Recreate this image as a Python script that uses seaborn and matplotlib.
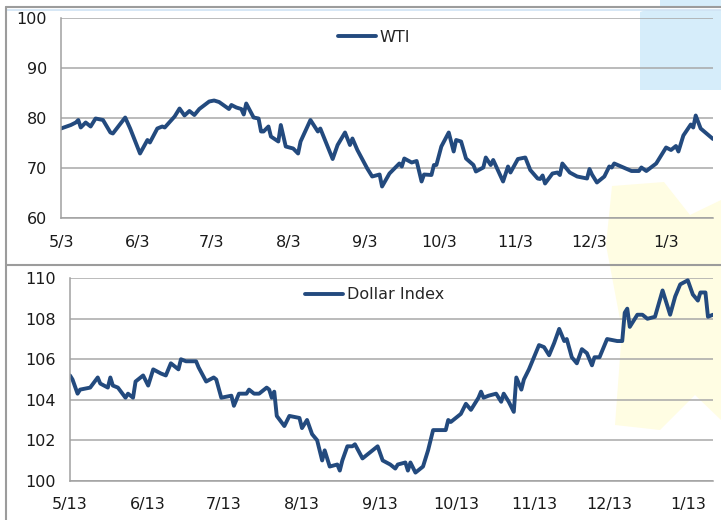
import pandas as pd
import matplotlib
matplotlib.use("Agg")
import matplotlib.pyplot as plt
from matplotlib.lines import Line2D
from matplotlib.patches import Polygon
import seaborn as sns

# WTI: days after 2024-05-03, price
wti_start = "2024-05-03"
wti_days = [0, 4, 6, 7, 8, 9, 10, 12, 14, 17, 20, 21, 26, 28, 32, 35, 36, 39, 41, 42,
            46, 48, 50, 52, 54, 56, 60, 62, 64, 68, 69, 71, 73, 74, 75, 78, 80, 81, 82, 84,
            85, 88, 89, 91, 94, 96, 97, 101, 104, 105, 110, 112, 115, 117, 118, 120, 124, 126, 129, 130,
            133, 135, 137, 138, 139, 142, 144, 146, 147, 150, 151, 152, 154, 157, 159, 160, 162, 164, 167, 168,
            171, 172, 174, 175, 179, 181, 182, 185, 188, 190, 193, 194, 195, 196, 199, 201, 202, 203, 206, 209,
            213, 214, 215, 217, 220, 222, 223, 224, 231, 234, 235, 237, 241, 245, 247, 249, 250, 252, 255, 256,
            257, 259, 264]
wti_vals = [77.9, 78.6, 79.1, 79.6, 78.1, 78.6, 79.1, 78.3, 79.9, 79.6, 77.1, 76.9, 80.1, 77.9, 72.9, 75.6, 75.1, 77.9, 78.3, 78.1,
            80.3, 81.9, 80.5, 81.4, 80.6, 81.8, 83.3, 83.5, 83.2, 81.8, 82.6, 82.1, 81.8, 80.7, 82.9, 80.1, 79.9, 77.3, 77.3, 78.3,
            76.3, 75.3, 78.6, 74.3, 73.9, 72.9, 75.3, 79.6, 77.3, 77.9, 71.8, 74.6, 77.1, 74.6, 75.9, 73.6, 69.9, 68.3, 68.7, 66.3,
            68.9, 69.9, 70.9, 70.3, 71.9, 71.1, 71.4, 67.3, 68.7, 68.6, 70.6, 70.6, 74.3, 77.1, 73.3, 75.6, 75.3, 71.9, 70.6, 69.3,
            70.1, 72.1, 70.6, 71.6, 67.3, 70.3, 69.1, 71.8, 72.1, 69.6, 67.9, 67.8, 68.5, 66.9, 68.9, 69.1, 68.6, 70.9, 69.1, 68.3,
            67.9, 69.8, 68.7, 67.1, 68.3, 70.3, 70.1, 70.9, 69.4, 69.4, 70.1, 69.4, 70.9, 74.1, 73.6, 74.4, 73.3, 76.5, 78.7, 78.1,
            80.5, 77.9, 75.8]

# Dollar Index: days after 2024-05-13, index level
dxy_start = "2024-05-13"
dxy_days = [0, 1, 3, 4, 8, 11, 12, 15, 16, 17, 19, 22, 23, 25, 26, 29, 31, 33, 36, 38,
            40, 43, 44, 46, 50, 51, 54, 57, 58, 60, 64, 65, 67, 70, 71, 73, 75, 78, 79, 80,
            81, 82, 85, 87, 91, 92, 94, 96, 98, 100, 101, 103, 106, 107, 108, 110, 112, 113, 116, 118,
            122, 124, 127, 129, 130, 133, 134, 135, 137, 140, 142, 143, 144, 149, 150, 151, 154, 155, 157, 159,
            162, 163, 164, 166, 169, 171, 172, 174, 176, 177, 179, 180, 182, 186, 188, 190, 192, 194, 196, 197,
            199, 201, 203, 205, 207, 208, 210, 213, 217, 219, 220, 221, 222, 225, 227, 229, 232, 235, 238, 240,
            242, 245, 247, 249, 250, 252, 253, 255]
dxy_vals = [105.2, 105.0, 104.3, 104.5, 104.6, 105.1, 104.8, 104.6, 105.1, 104.7, 104.6, 104.1, 104.3, 104.1, 104.9, 105.2, 104.7, 105.5, 105.3, 105.2,
            105.8, 105.5, 106.0, 105.9, 105.9, 105.6, 104.9, 105.1, 105.0, 104.1, 104.2, 103.7, 104.3, 104.3, 104.5, 104.3, 104.3, 104.6, 104.5, 104.1,
            104.4, 103.2, 102.7, 103.2, 103.1, 102.6, 103.0, 102.3, 102.0, 101.0, 101.5, 100.7, 100.8, 100.5, 101.0, 101.7, 101.7, 101.8, 101.1, 101.3,
            101.7, 101.0, 100.8, 100.6, 100.8, 100.9, 100.5, 100.9, 100.4, 100.7, 101.5, 102.0, 102.5, 102.5, 103.0, 102.9, 103.2, 103.3, 103.8, 103.5,
            104.1, 104.4, 104.1, 104.2, 104.3, 103.9, 104.3, 103.9, 103.4, 105.1, 104.5, 105.0, 105.5, 106.7, 106.6, 106.2, 106.8, 107.5, 106.9, 107.0,
            106.1, 105.8, 106.5, 106.3, 105.7, 106.1, 106.1, 107.0, 106.9, 106.9, 108.3, 108.5, 107.6, 108.2, 108.2, 108.0, 108.1, 109.4, 108.2, 109.1,
            109.7, 109.9, 109.2, 108.9, 109.3, 109.3, 108.1, 108.2]

wti_ticks = ["2024-05-03", "2024-06-03", "2024-07-03", "2024-08-03", "2024-09-03",
             "2024-10-03", "2024-11-03", "2024-12-03", "2025-01-03"]
wti_labels = ["5/3", "6/3", "7/3", "8/3", "9/3", "10/3", "11/3", "12/3", "1/3"]
dxy_ticks = ["2024-05-13", "2024-06-13", "2024-07-13", "2024-08-13", "2024-09-13",
             "2024-10-13", "2024-11-13", "2024-12-13", "2025-01-13"]
dxy_labels = ["5/13", "6/13", "7/13", "8/13", "9/13", "10/13", "11/13", "12/13", "1/13"]

wti = pd.DataFrame({"date": pd.Timestamp(wti_start) + pd.to_timedelta(wti_days, unit="D"),
                    "value": wti_vals})
dxy = pd.DataFrame({"date": pd.Timestamp(dxy_start) + pd.to_timedelta(dxy_days, unit="D"),
                    "value": dxy_vals})

sns.set_style("white")
plt.rcParams["font.family"] = ["DejaVu Sans"]

W, H = 721, 520
fig = plt.figure(figsize=(W / 100, H / 100), dpi=100)


def fx(x):
    return x / W


def fy(y):
    return 1 - y / H


# faint background picture behind the charts
fig.add_artist(Polygon([(fx(640), fy(12)), (fx(646), fy(10)), (fx(721), fy(10)),
                        (fx(721), fy(90)), (fx(640), fy(90))],
                       closed=True, facecolor="#d6edfa", edgecolor="none", zorder=-2))
fig.add_artist(Polygon([(fx(660), fy(0)), (fx(721), fy(0)), (fx(721), fy(7)), (fx(660), fy(7))],
                       closed=True, facecolor="#d6edfa", edgecolor="none", zorder=-2))
fig.add_artist(Polygon([(fx(612), fy(186)), (fx(664), fy(182)), (fx(690), fy(215)), (fx(721), fy(200)),
                        (fx(721), fy(420)), (fx(695), fy(395)), (fx(660), fy(430)), (fx(615), fy(425)),
                        (fx(622), fy(330)), (fx(606), fy(245))],
                       closed=True, facecolor="#fffde3", edgecolor="none", zorder=-2))

# chart frames
frame = "#9c9c9c"
fig.add_artist(Line2D([fx(6), 1], [fy(7), fy(7)], color=frame, lw=1.5))
fig.add_artist(Line2D([fx(6), 1], [fy(10), fy(10)], color="#cfe3f3", lw=1.2))
fig.add_artist(Line2D([fx(6), 1], [fy(265), fy(265)], color=frame, lw=1.5))
fig.add_artist(Line2D([fx(6), fx(6)], [fy(7), 0], color=frame, lw=1.5))

ax1 = fig.add_axes([fx(61), fy(218), (713 - 61) / W, 200 / H])
ax2 = fig.add_axes([fx(70), fy(480.7), (713 - 70) / W, 202.4 / H])

line_color = "#234a7e"
sns.lineplot(data=wti, x="date", y="value", ax=ax1, color=line_color, linewidth=2.8, label="WTI")
sns.lineplot(data=dxy, x="date", y="value", ax=ax2, color=line_color, linewidth=2.8, label="Dollar Index")

setups = [
    (ax1, wti_start, 264, wti_ticks, wti_labels, (60, 100), range(60, 101, 10), (0.4248, 0.905)),
    (ax2, dxy_start, 255, dxy_ticks, dxy_labels, (100, 110), range(100, 111, 2), (0.3655, 0.9175)),
]
for ax, start, span, ticks, labels, ylim, yt, leg_pos in setups:
    ax.set_facecolor("none")
    ax.set_xlim(pd.Timestamp(start), pd.Timestamp(start) + pd.Timedelta(days=span))
    ax.set_ylim(*ylim)
    ax.set_yticks(list(yt))
    ax.set_xticks(pd.to_datetime(ticks))
    ax.set_xticklabels(labels)
    ax.set_xlabel("")
    ax.set_ylabel("")
    ax.yaxis.grid(True, color="#a8a8a8", linewidth=1.1)
    ax.xaxis.grid(False)
    ax.set_axisbelow(True)
    for side in ["top", "right"]:
        ax.spines[side].set_visible(False)
    for side in ["left", "bottom"]:
        ax.spines[side].set_color("#a0a0a0")
        ax.spines[side].set_linewidth(1.1)
    ax.tick_params(axis="both", direction="out", length=5, width=1, color="#a0a0a0",
                   labelsize=11.5, labelcolor="#1a1a1a")
    ax.tick_params(axis="x", pad=7)
    ax.tick_params(axis="y", pad=5)
    ax.legend(loc="center left", bbox_to_anchor=leg_pos, frameon=False, fontsize=11.5,
              handlelength=2.4, handletextpad=0.2, borderpad=0, borderaxespad=0)

plt.savefig("out.png", dpi=100)
